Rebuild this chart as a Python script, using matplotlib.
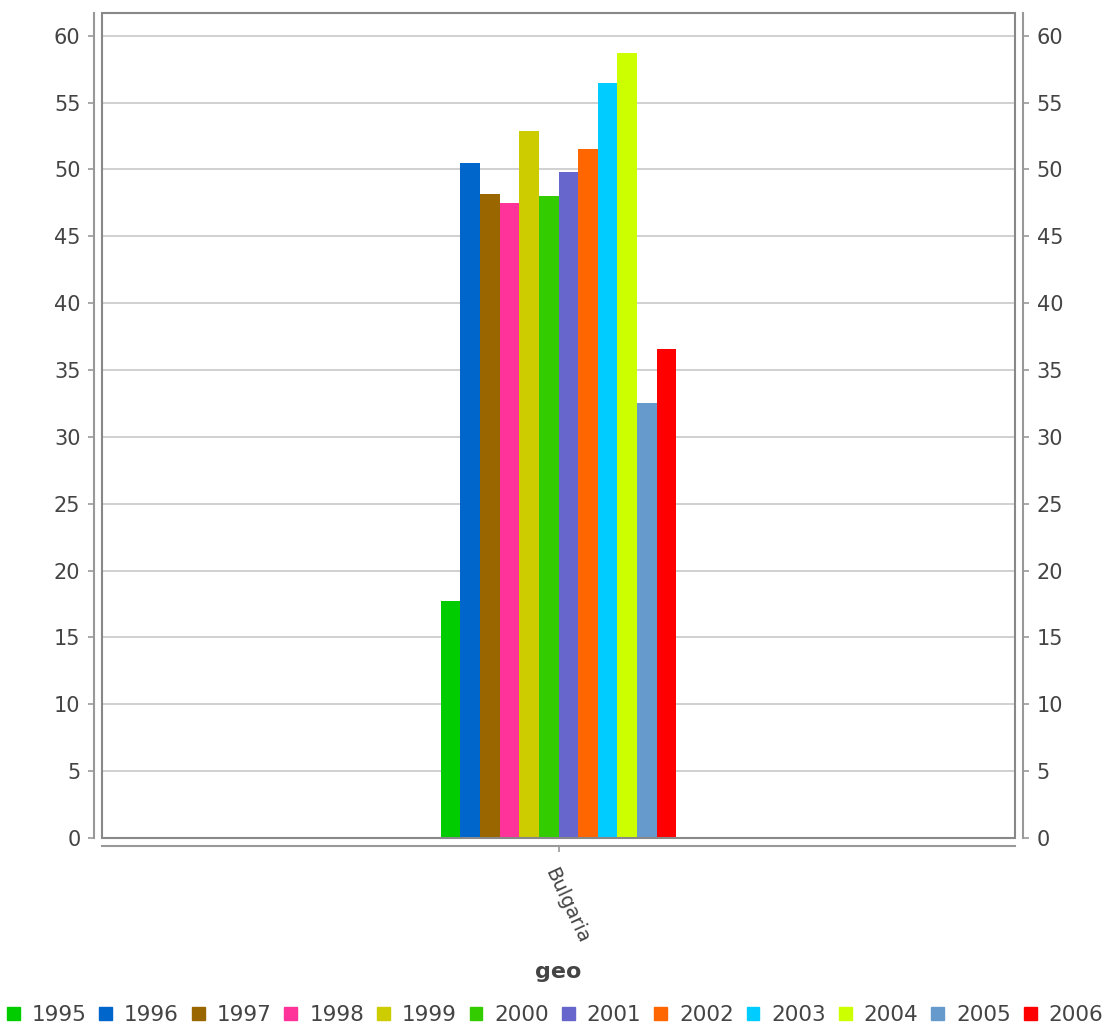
import matplotlib
matplotlib.use("Agg")
import matplotlib.pyplot as plt
from matplotlib.patches import Rectangle, Patch
import numpy as np

categories = ["Bulgaria"]
years = ["1995", "1996", "1997", "1998", "1999", "2000", "2001", "2002", "2003", "2004", "2005", "2006"]
values = [17.7, 50.5, 48.2, 47.5, 52.9, 48.0, 49.8, 51.5, 56.5, 58.7, 32.5, 36.6]
colors = ["#00cc00", "#0066cc", "#996600", "#ff3399", "#cccc00", "#33cc00",
          "#6666cc", "#ff6600", "#00ccff", "#ccff00", "#6699cc", "#ff0000"]

plt.rcParams['font.family'] = ['DejaVu Sans']
txt = "#444444"
axc = "#999999"

fig = plt.figure(figsize=(11.06, 10.26), dpi=100)
ax = fig.add_axes([102/1106, 1-838/1026, (1015-102)/1106, (838-13)/1026])

n = len(years)
group = 0.258
w = group / n
x0 = 0
for i, (y, v, c) in enumerate(zip(years, values, colors)):
    ax.bar(x0 - group/2 + w*(i+0.5), v, width=w, color=c, label=y, zorder=3)

ax.set_xlim(-0.5, 0.5)
ax.set_ylim(0, 61.7)
ticks = np.arange(0, 61, 5)
ax.set_yticks(ticks)
ax.yaxis.grid(True, color="#c8c8c8", linewidth=1.2, zorder=0)
ax.set_axisbelow(True)

for s in ax.spines.values():
    s.set_visible(False)
ax.add_patch(Rectangle((0, 0), 1, 1, transform=ax.transAxes, fill=False,
                       ec="#888888", lw=1.5, zorder=5, clip_on=False))

ax.spines['left'].set_visible(True)
ax.spines['left'].set_position(('outward', 5.5))
ax.spines['left'].set_color(axc)
ax.spines['left'].set_linewidth(1.5)
ax.spines['bottom'].set_visible(True)
ax.spines['bottom'].set_position(('outward', 5.5))
ax.spines['bottom'].set_color(axc)
ax.spines['bottom'].set_linewidth(1.5)

ax.tick_params(axis='y', colors=axc, labelcolor=txt, labelsize=15, length=4, width=1.2, pad=6)
ax.set_xticks([x0])
ax.set_xticklabels(categories)
ax.tick_params(axis='x', colors=axc, labelcolor=txt, labelsize=14, length=4, width=1.2, pad=10)
for lab in ax.get_xticklabels():
    lab.set_rotation(-65)
    lab.set_rotation_mode('anchor')
    lab.set_ha('left')
    lab.set_va('top')

ax2 = ax.twinx()
ax2.set_ylim(ax.get_ylim())
ax2.set_yticks(ticks)
for s in ax2.spines.values():
    s.set_visible(False)
ax2.spines['right'].set_visible(True)
ax2.spines['right'].set_position(('outward', 5.5))
ax2.spines['right'].set_color(axc)
ax2.spines['right'].set_linewidth(1.5)
ax2.tick_params(axis='y', colors=axc, labelcolor=txt, labelsize=15, length=4, width=1.2, pad=6)

fig.text(558/1106, 1-972/1026, "geo", ha='center', va='center', fontsize=16,
         fontweight='bold', color=txt)

handles = [Patch(color=c) for c in colors]
fig.legend(handles, years, loc='center', bbox_to_anchor=(555/1106, 1-1015/1026), ncol=n,
           frameon=False, fontsize=15.5, handlelength=0.6, handleheight=0.6,
           handletextpad=0.55, columnspacing=0.6, labelcolor=txt, borderaxespad=0)

fig.savefig("out.png", dpi=100)
